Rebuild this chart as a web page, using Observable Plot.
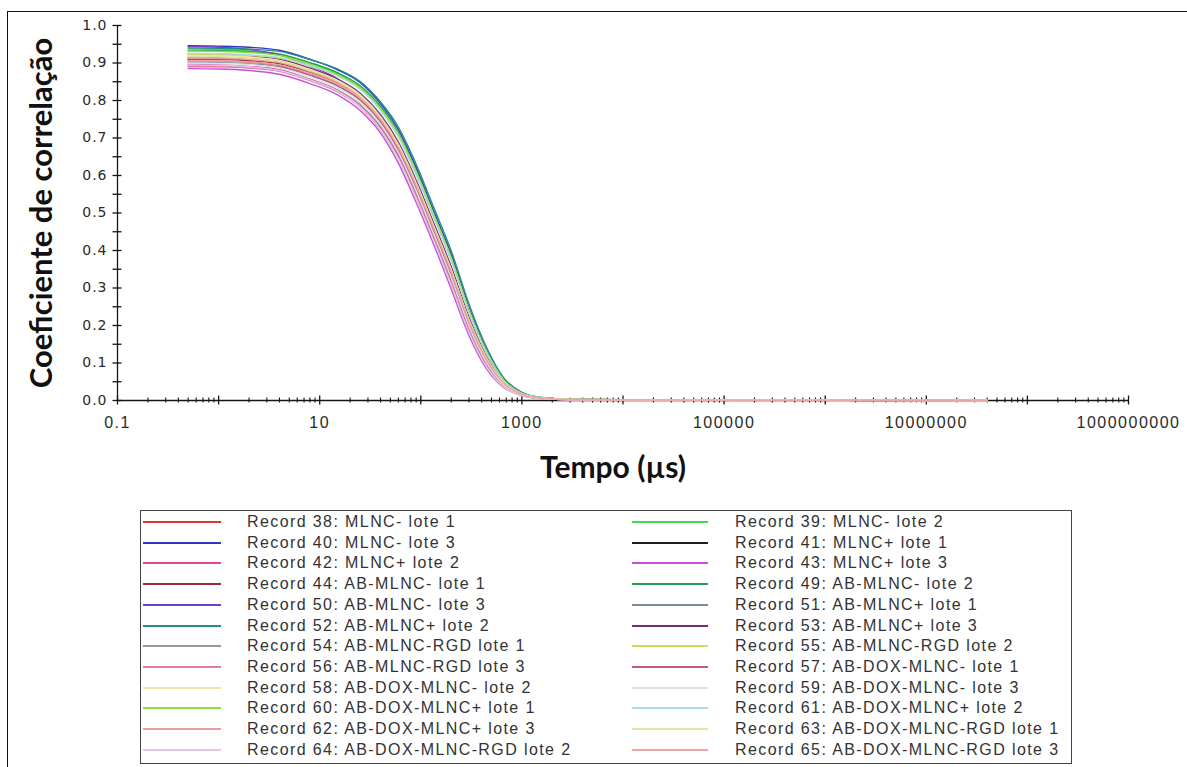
<!DOCTYPE html>
<html>
<head>
<meta charset="utf-8">
<script src="https://cdn.jsdelivr.net/npm/d3@7"></script>
<script src="https://cdn.jsdelivr.net/npm/@observablehq/plot@0.6"></script>
<style>
  html, body { margin: 0; padding: 0; background: #fff; }
  #page { position: relative; width: 1187px; height: 767px; overflow: hidden; background: #fff; }
  #frame { position: absolute; left: 7px; top: 11px; width: 1400px; height: 900px;
           border-left: 1.5px solid #111; border-top: 1.5px solid #111; }
  #chart { position: absolute; left: 0; top: 0; }
  #chart g[font-family^="Liberation"] { letter-spacing: 1.5px; }
  #chart g[font-family^="DejaVu"] { letter-spacing: 1px; }
  #legend { position: absolute; left: 140px; top: 510px; width: 932px; height: 254px;
            border: 1.3px solid #444; box-sizing: border-box; }
  .item { position: absolute; height: 20px; line-height: 20px; white-space: nowrap;
          font-family: "Liberation Sans", Arial, sans-serif; font-size: 16px;
          letter-spacing: 1.4px; color: #333; }
  .swatch { position: absolute; height: 2px; }
</style>
</head>
<body>
<div id="page">
  <div id="frame"></div>
  <div id="chart"></div>
  <div id="legend"></div>
</div>
<script>
// Correlograms: correlation coefficient vs. delay time (µs), one curve per record
const lagTimes = [0.5, 1, 2, 4, 8, 15, 25, 40, 60, 90, 135, 200, 300, 450, 650, 1000, 1600, 3000, 1e5, 4e7];

const records = [
  "Record 38: MLNC- lote 1",          "Record 39: MLNC- lote 2",
  "Record 40: MLNC- lote 3",          "Record 41: MLNC+ lote 1",
  "Record 42: MLNC+ lote 2",          "Record 43: MLNC+ lote 3",
  "Record 44: AB-MLNC- lote 1",       "Record 49: AB-MLNC- lote 2",
  "Record 50: AB-MLNC- lote 3",       "Record 51: AB-MLNC+ lote 1",
  "Record 52: AB-MLNC+ lote 2",       "Record 53: AB-MLNC+ lote 3",
  "Record 54: AB-MLNC-RGD lote 1",    "Record 55: AB-MLNC-RGD lote 2",
  "Record 56: AB-MLNC-RGD lote 3",    "Record 57: AB-DOX-MLNC- lote 1",
  "Record 58: AB-DOX-MLNC- lote 2",   "Record 59: AB-DOX-MLNC- lote 3",
  "Record 60: AB-DOX-MLNC+ lote 1",   "Record 61: AB-DOX-MLNC+ lote 2",
  "Record 62: AB-DOX-MLNC+ lote 3",   "Record 63: AB-DOX-MLNC-RGD lote 1",
  "Record 64: AB-DOX-MLNC-RGD lote 2", "Record 65: AB-DOX-MLNC-RGD lote 3"
];

const colors = [
  "#e03434", "#44d84c",
  "#3434c4", "#1e1e1e",
  "#e0449c", "#c84ee0",
  "#a02c2c", "#24a050",
  "#7a3cc8", "#7c8c9c",
  "#248c8c", "#7a2a7a",
  "#989898", "#c4e05c",
  "#e47ca4", "#c05c80",
  "#f0e4a8", "#e6dce8",
  "#8ce03c", "#a8dce6",
  "#e89ca4", "#e6e4a8",
  "#e2c8e2", "#f0a4a0"
];

const r38 = [.911,.911,.908,.901,.878,.850,.814,.757,.684,.583,.468,.354,.219,.114,.050,.017,.006,.003,.001,.000];
const r39 = [.937,.936,.932,.924,.900,.871,.836,.778,.707,.606,.490,.376,.238,.127,.056,.019,.007,.003,.001,.000];
const r40 = [.946,.945,.942,.934,.910,.882,.848,.791,.722,.621,.503,.390,.248,.133,.059,.020,.007,.003,.001,.000];
const r41 = [.915,.915,.912,.904,.881,.853,.816,.758,.685,.583,.468,.353,.218,.113,.050,.017,.006,.003,.001,.000];
const r42 = [.896,.895,.891,.882,.857,.828,.788,.728,.651,.547,.432,.316,.188,.093,.041,.014,.005,.002,.001,.000];
const r43 = [.885,.884,.880,.870,.845,.815,.774,.713,.633,.528,.414,.297,.173,.083,.036,.013,.005,.002,.001,.000];
const r44 = [.909,.909,.906,.898,.875,.846,.808,.750,.676,.574,.459,.344,.211,.109,.048,.016,.006,.002,.001,.000];
const r49 = [.933,.933,.930,.923,.901,.874,.840,.784,.714,.613,.496,.382,.242,.129,.057,.019,.007,.003,.001,.000];
const r50 = [.944,.942,.936,.922,.892,.858,.814,.748,.668,.560,.442,.325,.193,.095,.041,.014,.005,.002,.001,.000];
const r51 = [.901,.901,.898,.890,.867,.839,.802,.745,.671,.569,.453,.338,.206,.106,.047,.016,.006,.002,.001,.000];
const r52 = [.940,.939,.937,.931,.909,.884,.851,.796,.729,.630,.513,.399,.257,.140,.063,.022,.008,.003,.001,.000];
const r53 = [.924,.923,.919,.910,.886,.857,.820,.762,.689,.587,.471,.356,.221,.115,.051,.017,.006,.003,.001,.000];
const r54 = [.890,.890,.887,.879,.856,.828,.790,.731,.656,.553,.438,.322,.193,.097,.043,.015,.005,.002,.001,.000];
const r55 = [.922,.922,.920,.913,.892,.866,.833,.778,.709,.610,.494,.380,.241,.129,.057,.019,.007,.003,.001,.000];
const r56 = [.892,.891,.887,.878,.853,.823,.783,.722,.645,.541,.426,.310,.183,.090,.039,.014,.005,.002,.001,.000];
const r57 = [.905,.905,.902,.893,.869,.840,.802,.743,.668,.565,.449,.334,.203,.104,.046,.016,.006,.002,.001,.000];
const r58 = [.920,.919,.916,.907,.883,.854,.816,.757,.683,.580,.464,.349,.215,.112,.050,.017,.006,.003,.001,.000];
const r59 = [.900,.899,.896,.887,.863,.834,.796,.737,.662,.559,.443,.328,.198,.100,.044,.015,.005,.002,.001,.000];
const r60 = [.932,.931,.928,.920,.897,.869,.834,.777,.706,.605,.489,.375,.237,.126,.056,.019,.007,.003,.001,.000];
const r61 = [.926,.925,.922,.915,.893,.865,.830,.773,.702,.601,.485,.371,.233,.124,.054,.018,.007,.003,.001,.000];
const r62 = [.912,.912,.909,.901,.877,.848,.810,.752,.678,.576,.461,.346,.212,.110,.049,.017,.006,.003,.001,.000];
const r63 = [.916,.916,.912,.904,.880,.851,.813,.755,.681,.579,.463,.348,.214,.111,.049,.017,.006,.003,.001,.000];
const r64 = [.895,.894,.890,.880,.855,.825,.784,.723,.645,.540,.424,.308,.181,.088,.038,.013,.005,.002,.001,.000];
const r65 = [.906,.906,.903,.895,.872,.844,.807,.749,.675,.573,.458,.343,.210,.108,.048,.016,.006,.002,.001,.000];

const seriesValues = [r38, r39, r40, r41, r42, r43, r44, r49, r50, r51, r52, r53,
                      r54, r55, r56, r57, r58, r59, r60, r61, r62, r63, r64, r65];

// Axis ticks
const xLabelTicks = [0.1, 10, 1000, 100000, 10000000, 1000000000];
const xDecadeTicks = [0.1, 1, 10, 100, 1e3, 1e4, 1e5, 1e6, 1e7, 1e8, 1e9];
const xMinorTicks = xDecadeTicks.slice(0, -1).flatMap(d => [2, 3, 4, 5, 6, 7, 8, 9].map(k => k * d));
const yLabelTicks = [0, 0.1, 0.2, 0.3, 0.4, 0.5, 0.6, 0.7, 0.8, 0.9, 1.0];
const yMinorTicks = [0.05, 0.15, 0.25, 0.35, 0.45, 0.55, 0.65, 0.75, 0.85, 0.95];

const xTitle = "Tempo (µs)";
const yTitle = "Coeficiente de correlação";

// Long-format table for the line mark
const table = records.flatMap((rec, i) =>
  lagTimes.map((t, j) => ({t, c: seriesValues[i][j], record: rec})));

const axisColor = "#151515";
const labelColor = "#2a2a2a";

const chart = Plot.plot({
  width: 1187,
  height: 490,
  marginLeft: 117,
  marginRight: 59,
  marginTop: 25,
  marginBottom: 90,
  style: {background: "transparent", overflow: "visible"},
  x: {type: "log", domain: [0.1, 1e9], axis: null},
  y: {domain: [0, 1], axis: null},
  color: {domain: records, range: colors},
  marks: [
    // axis lines
    Plot.ruleY([0], {x1: 0.1, x2: 1e9, stroke: axisColor, strokeWidth: 1.3}),
    Plot.ruleX([0.1], {y1: 0, y2: 1, stroke: axisColor, strokeWidth: 1.3}),
    // crossing tick marks
    Plot.ruleX(xDecadeTicks, {x: d => d, y1: 0, y2: 0, insetTop: -4.5, insetBottom: -4.5,
                              stroke: axisColor, strokeWidth: 1.3}),
    Plot.ruleX(xMinorTicks, {x: d => d, y1: 0, y2: 0, insetTop: -2.5, insetBottom: -2.5,
                             stroke: axisColor, strokeWidth: 1.1}),
    Plot.ruleY(yLabelTicks.concat(yMinorTicks), {y: d => d, x1: 0.1, x2: 0.1,
                             insetLeft: -4.5, insetRight: -4.5, stroke: axisColor, strokeWidth: 1.3}),
    // curves
    Plot.line(table, {x: "t", y: "c", z: "record", stroke: "record",
                      strokeWidth: 1.4, curve: "monotone-x"}),
    // tick labels
    Plot.text(xLabelTicks, {x: d => d, y: 0, text: d => String(d), dy: 22,
                            fontFamily: "Liberation Sans", fontSize: 16, fill: labelColor}),
    Plot.text(yLabelTicks, {x: 0.1, y: d => d, text: d => d.toFixed(1), dx: -10,
                            textAnchor: "end", fontFamily: "DejaVu Sans", fontSize: 14, fill: labelColor}),
    // axis titles
    Plot.text([xTitle], {text: d => d, frameAnchor: "bottom", dx: -10, dy: 68, lineAnchor: "middle",
                         textAnchor: "middle", fontFamily: "Lato", fontWeight: "bold", fontSize: 30, fill: "#111"}),
    Plot.text([yTitle], {text: d => d, frameAnchor: "left", dx: -75, rotate: -90, lineAnchor: "middle",
                         textAnchor: "middle", fontFamily: "Lato", fontWeight: "bold", fontSize: 31, fill: "#111"})
  ]
});
document.getElementById("chart").append(chart);

// Legend: two columns, filled row by row
const legend = document.getElementById("legend");
const rowStep = 20.7;
records.forEach((rec, i) => {
  const col = i % 2, row = Math.floor(i / 2);
  const sw = document.createElement("div");
  sw.className = "swatch";
  sw.style.left = (col ? 491 : 2) + "px";
  sw.style.width = (col ? 76 : 78) + "px";
  sw.style.top = (row * rowStep + 10) + "px";
  sw.style.background = colors[i];
  legend.append(sw);
  const tx = document.createElement("div");
  tx.className = "item";
  tx.style.left = (col ? 594 : 106) + "px";
  tx.style.top = (row * rowStep + 1) + "px";
  tx.textContent = rec;
  legend.append(tx);
});
</script>
</body>
</html>
